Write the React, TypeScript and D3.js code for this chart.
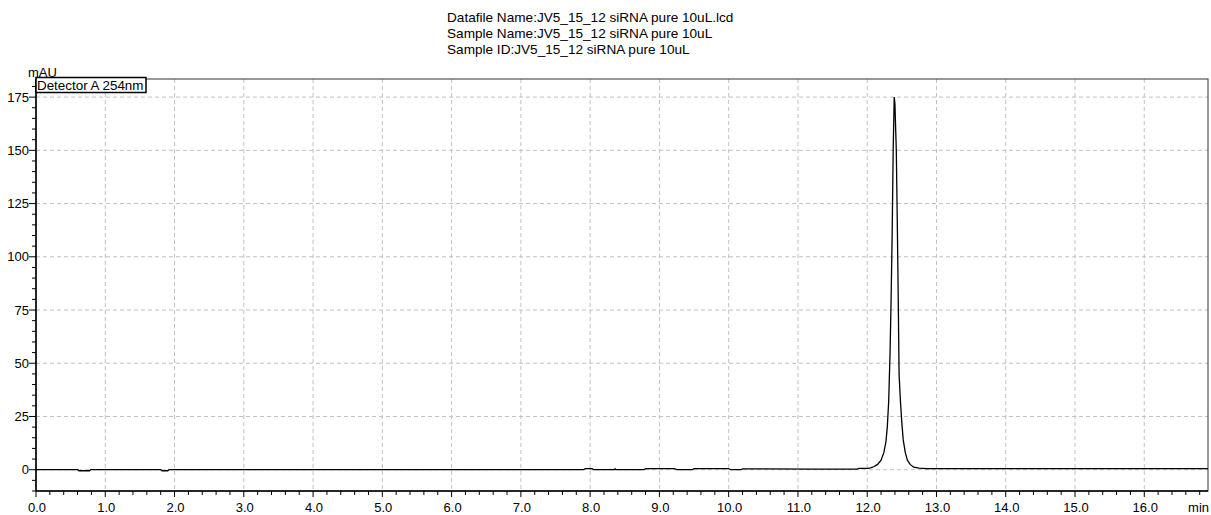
import React from 'react';
import * as d3 from 'd3';

// header text
const titleLines = [
  'Datafile Name:JV5_15_12 siRNA pure 10uL.lcd',
  'Sample Name:JV5_15_12 siRNA pure 10uL',
  'Sample ID:JV5_15_12 siRNA pure 10uL',
];
const legendLabel = 'Detector A 254nm';
const yUnit = 'mAU';
const xUnit = 'min';

// retention time (min) and detector signal (mAU)
const timePts = [
  0, 0.6, 0.62, 0.77, 0.79, 1.8, 1.82, 1.9, 1.92, 7.9, 7.93, 8.03, 8.05, 8.35, 8.36, 8.37,
  8.78, 8.8, 9.22, 9.25, 9.48, 9.5, 10.0, 10.03, 10.18, 10.2, 11.2, 11.85, 11.88, 12.0,
  12.05, 12.1, 12.15, 12.2, 12.24, 12.27, 12.29, 12.31, 12.33, 12.345, 12.36, 12.375, 12.39,
  12.4, 12.42, 12.435, 12.45, 12.46, 12.48, 12.5, 12.52, 12.55, 12.58, 12.62, 12.67, 12.75,
  12.85, 14.0, 16.92,
];
const signalPts = [
  0, 0, -0.5, -0.5, 0, 0, -0.5, -0.5, 0, 0, 0.5, 0.5, 0, 0, 0.4, 0,
  0, 0.5, 0.5, 0, 0, 0.5, 0.5, 0, 0, 0.4, 0.3, 0.3, 0.6, 0.6,
  0.9, 1.5, 2.5, 4.5, 8, 13, 20, 32, 55, 80, 110, 150, 175,
  172, 150, 115, 75, 45, 32, 22, 14, 8, 4.5, 2.5, 1.2, 0.7,
  0.5, 0.5, 0.5,
];

const yMajor = [0, 25, 50, 75, 100, 125, 150, 175];
const xMajor = d3.range(0, 17, 1);

const W = 1211;
const H = 515;
const left = 36;
const right = 1208;
const top = 79;
const bottom = 491;

export default function App() {
  const x = d3.scaleLinear().domain([0, 16.92]).range([left, right]);
  const y = d3.scaleLinear().domain([-10, 183.5]).range([bottom, top]);

  const data = timePts.map((t, i) => [t, signalPts[i]] as [number, number]);
  const line = d3
    .line<[number, number]>()
    .x((d) => x(d[0]))
    .y((d) => y(d[1]));

  const yMinor = d3.range(-10, 181, 5).filter((v) => v % 25 !== 0);
  const xMinor = d3.range(0, 169, 2).map((v) => v / 10).filter((v) => Math.abs(v - Math.round(v)) > 0.01);

  const font = "'Liberation Sans', Arial, sans-serif";

  return (
    <svg width={W} height={H} style={{ position: 'absolute', left: 0, top: 0 }} fontFamily={font}>
      <rect width={W} height={H} fill="#fff" />

      {titleLines.map((t, i) => (
        <text key={t} x={447} y={22 + i * 16} fontSize={13.6} fill="#000">
          {t}
        </text>
      ))}

      {/* grid */}
      <g stroke="#c0c0c0" strokeDasharray="4,3" strokeWidth={1}>
        {xMajor.filter((v) => v > 0).map((v) => (
          <line key={'gx' + v} x1={x(v)} x2={x(v)} y1={top} y2={bottom} />
        ))}
        {yMajor.map((v) => (
          <line key={'gy' + v} x1={left} x2={right} y1={y(v)} y2={y(v)} />
        ))}
      </g>

      {/* frame */}
      <rect x={left} y={top} width={right - left} height={bottom - top} fill="none" stroke="#333" strokeWidth={1} />
      <line x1={left} x2={left} y1={top} y2={bottom} stroke="#000" strokeWidth={1.5} />
      <line x1={left} x2={right} y1={bottom} y2={bottom} stroke="#000" strokeWidth={1.5} />

      {/* ticks */}
      <g stroke="#000">
        {yMajor.map((v) => (
          <line key={'ty' + v} x1={left - 7} x2={left} y1={y(v)} y2={y(v)} />
        ))}
        {yMinor.map((v) => (
          <line key={'tym' + v} x1={left - 4} x2={left} y1={y(v)} y2={y(v)} />
        ))}
        {xMajor.map((v) => (
          <line key={'tx' + v} x1={x(v)} x2={x(v)} y1={bottom} y2={bottom + 6} />
        ))}
        {xMinor.map((v) => (
          <line key={'txm' + v} x1={x(v)} x2={x(v)} y1={bottom} y2={bottom + 4} />
        ))}
      </g>

      {yMajor.map((v) => (
        <text key={'ly' + v} x={left - 7} y={y(v) + 4.5} fontSize={13} textAnchor="end" fill="#000">
          {v}
        </text>
      ))}
      {xMajor.map((v) => (
        <text key={'lx' + v} x={x(v) + 1} y={512} fontSize={13} textAnchor="middle" fill="#000">
          {v.toFixed(1)}
        </text>
      ))}
      <text x={1209} y={512} fontSize={13} textAnchor="end" fill="#000">
        {xUnit}
      </text>
      <text x={28} y={77} fontSize={13} fill="#000">
        {yUnit}
      </text>

      {/* legend */}
      <rect x={left} y={77.5} width={110} height={15} fill="#fff" stroke="#000" strokeWidth={1.5} />
      <text x={left + 1} y={90} fontSize={13.4} fill="#000">
        {legendLabel}
      </text>

      {/* trace */}
      <path d={line(data) ?? ''} fill="none" stroke="#000" strokeWidth={1.3} />
    </svg>
  );
}
